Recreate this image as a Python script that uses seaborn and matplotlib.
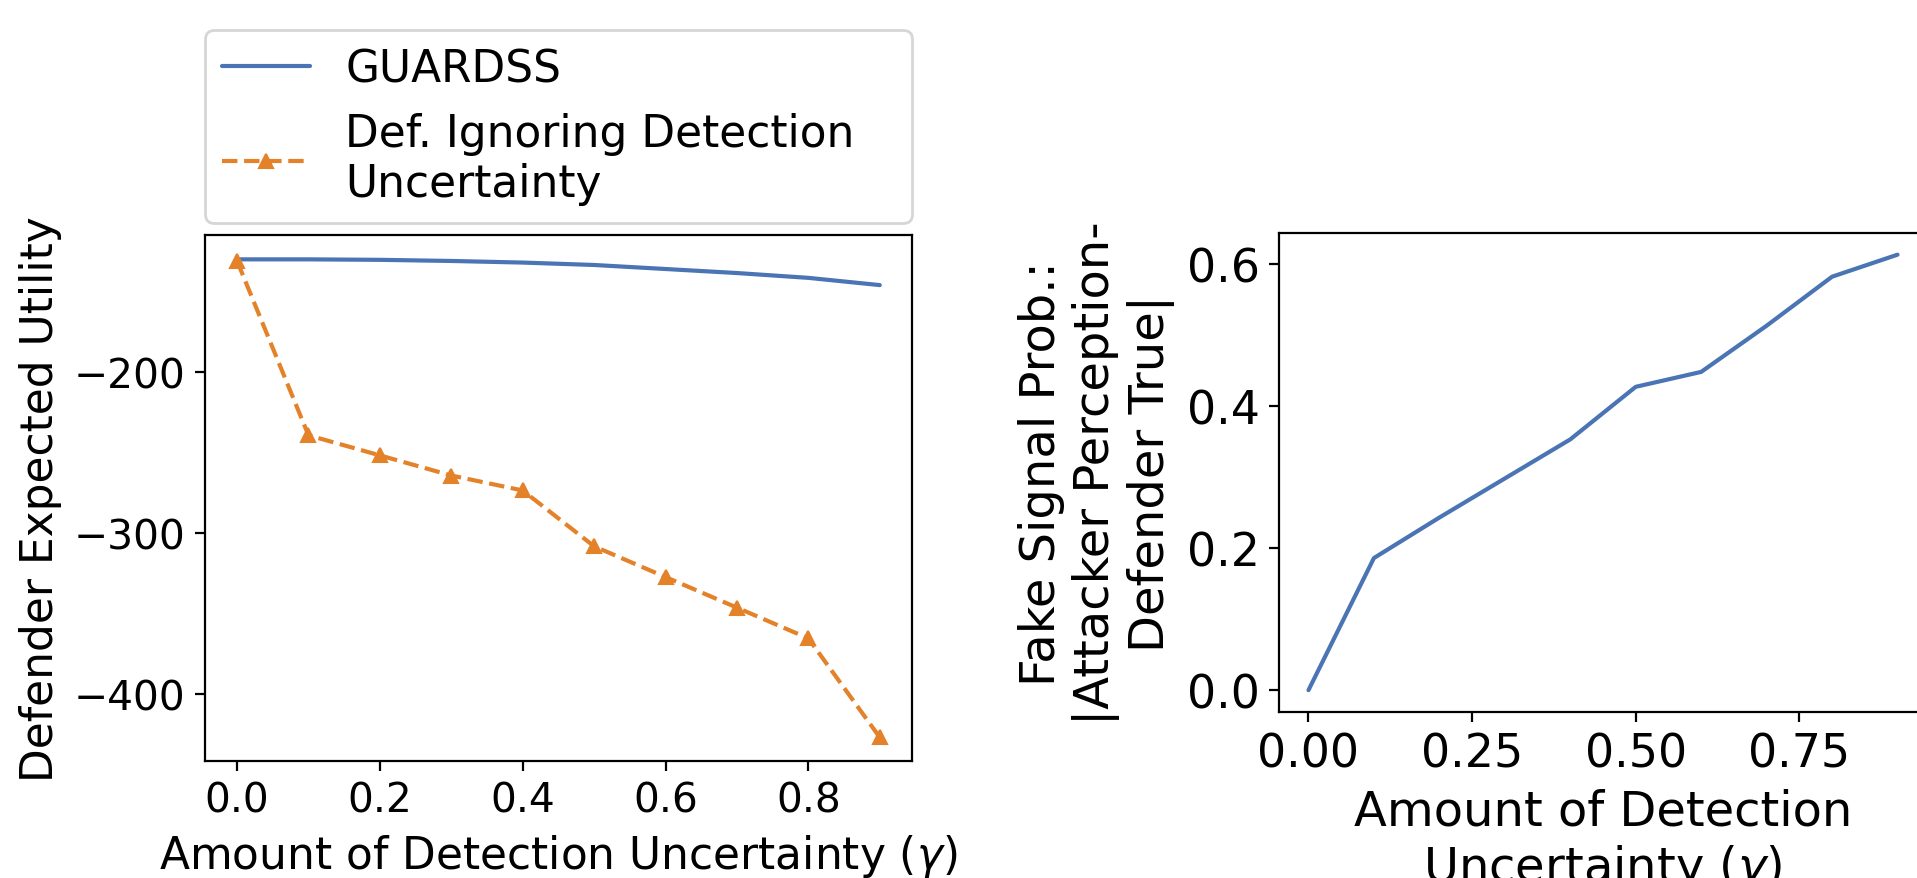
import numpy as np
import pandas as pd
import seaborn as sns
import matplotlib.pyplot as plt

# values
gamma = [0.0, 0.1, 0.2, 0.3, 0.4, 0.5, 0.6, 0.7, 0.8, 0.9]
guardss_util = [-130, -130, -130.3, -131, -132, -133.5, -136, -138.5, -141.5, -146]
ignore_util = [-131, -239.3, -251.8, -264.3, -273.6, -308.3, -327.4, -346.4, -365.5, -427]
fake_signal = [0.0, 0.186, 0.243, 0.298, 0.353, 0.427, 0.448, 0.513, 0.582, 0.613]

df = pd.DataFrame({'gamma': gamma, 'GUARDSS': guardss_util,
                   'Ignore': ignore_util, 'Fake': fake_signal})

sns.set_style('ticks', {'text.color': 'black', 'axes.labelcolor': 'black',
                        'xtick.color': 'black', 'ytick.color': 'black',
                        'axes.edgecolor': 'black'})
plt.rcParams['font.family'] = ['DejaVu Sans']
blue = '#4a74b4'
orange = '#e4822a'

fig = plt.figure(figsize=(9.585, 4.395), dpi=200)

# left panel
ax1 = fig.add_axes([0.1069, 0.1328, 0.3688, 0.5982])
sns.lineplot(data=df, x='gamma', y='GUARDSS', ax=ax1, color=blue, label='GUARDSS')
sns.lineplot(data=df, x='gamma', y='Ignore', ax=ax1, color=orange, linestyle='--',
             marker='^', markersize=5.2, markeredgecolor=orange,
             label='Def. Ignoring Detection\nUncertainty')
ax1.set_xlabel('Amount of Detection Uncertainty ($\\gamma$)', fontsize=15.8)
ax1.set_ylabel('Defender Expected Utility', fontsize=15.8)
ax1.set_yticks([-200, -300, -400])
ax1.tick_params(labelsize=14.7)
ax1.legend(loc='lower left', bbox_to_anchor=(0, 1.024, 1, 0.2), mode='expand',
           borderaxespad=0, fontsize=15.8, frameon=True)

# right panel
ax2 = fig.add_axes([0.6672, 0.1889, 0.338, 0.545])
sns.lineplot(data=df, x='gamma', y='Fake', ax=ax2, color=blue)
ax2.set_xticks([0.0, 0.25, 0.5, 0.75])
ax2.set_yticks([0.0, 0.2, 0.4, 0.6])
ax2.set_xlabel('Amount of Detection\nUncertainty ($\\gamma$)', fontsize=17.3)
ax2.set_ylabel('Fake Signal Prob.:\n|Attacker Perception-\nDefender True|', fontsize=17.3)
ax2.tick_params(labelsize=16.5)

plt.savefig('out.png', dpi=200)
